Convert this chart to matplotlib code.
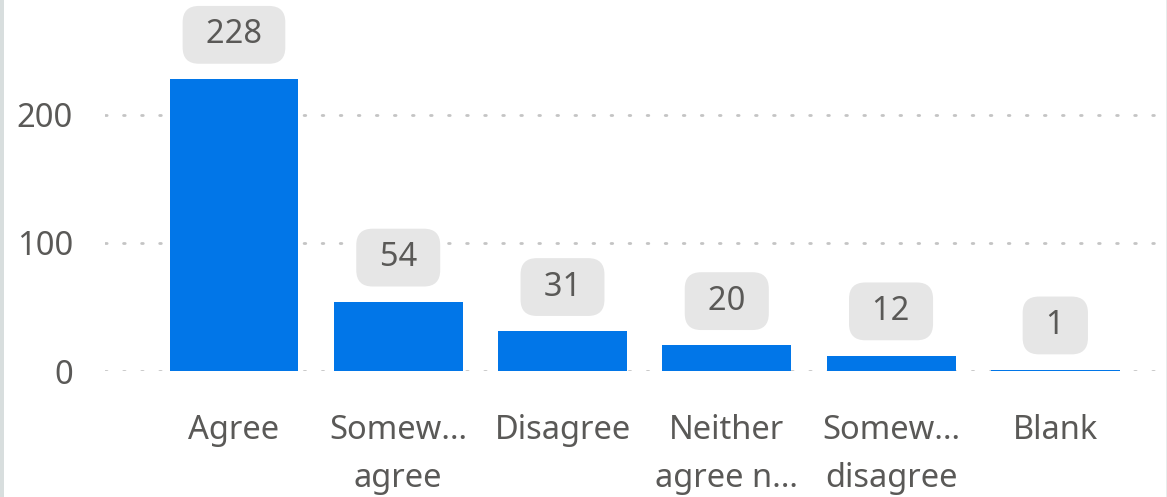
import matplotlib.pyplot as plt
from matplotlib.patches import Rectangle

# Survey responses
categories = ["Agree", "Somew\u2026\nagree", "Disagree", "Neither\nagree n\u2026",
              "Somew\u2026\ndisagree", "Blank"]
counts = [228, 54, 31, 20, 12, 1]
yticks = [0, 100, 200]

bar_color = "#0176E8"
text_color = "#5A5957"

plt.rcParams['font.family'] = ['Noto Sans', 'DejaVu Sans']

fig = plt.figure(figsize=(11.67, 4.97), dpi=100)
ax = fig.add_axes([0.09, 0.2535, 0.91, 0.7465])

x = range(len(categories))
ax.bar(x, counts, width=0.785, color=bar_color, zorder=2)

# value labels in grey rounded boxes
for xi, v in zip(x, counts):
    ax.annotate("\u2004" + str(v) + "\u2004", (xi, v), xytext=(0, 20),
                textcoords="offset points", ha="center", va="bottom",
                fontsize=23.5, color=text_color, zorder=3, annotation_clip=False,
                bbox=dict(boxstyle="round,pad=0.38,rounding_size=0.5",
                          fc="#E6E6E6", ec="none"))

ax.set_xlim(-0.785, 5.68)
ax.set_ylim(0, 289.8)
ax.set_yticks(yticks)
ax.set_xticks(list(x))
ax.set_xticklabels(categories, linespacing=1.6)
ax.tick_params(axis="both", length=0, labelsize=23.5, labelcolor=text_color)
ax.tick_params(axis="y", pad=23)
ax.tick_params(axis="x", pad=31)

for y in yticks:
    ax.axhline(y, color="#C4C4C4", lw=2, ls=(0, (0.6, 5.9)),
               dash_capstyle="round", zorder=1)

for s in ax.spines.values():
    s.set_visible(False)

# frame edges of the visual
fig.add_artist(Rectangle((0, 0), 3.5 / 1167, 1, transform=fig.transFigure,
                         color="#D8DEDE", lw=0))
fig.add_artist(Rectangle((1 - 1.5 / 1167, 0), 1.5 / 1167, 1, transform=fig.transFigure,
                         color="#E8ECEC", lw=0))

fig.savefig("out.png", dpi=100)
